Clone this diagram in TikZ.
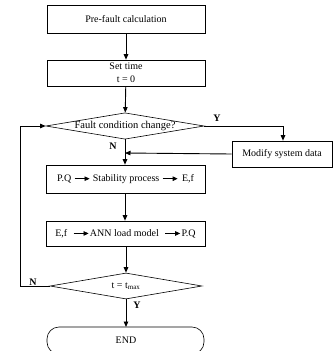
\documentclass[tikz,border=0pt]{standalone}
\usepackage{fontspec}
\setmainfont{Liberation Serif}
\usetikzlibrary{shapes.geometric,arrows.meta}
\newcommand\inarr{\tikz[baseline=-0.6ex]\draw[line width=0.7pt,-{Triangle[length=5pt,width=4.5pt]}] (0pt,0pt)--(15pt,0pt);}
\begin{document}
\begin{tikzpicture}[x=1pt,y=-1pt,
  font=\fontsize{10}{12}\selectfont,
  box/.style={draw, line width=0.6pt, minimum width=158pt, minimum height=27pt, inner sep=0pt, align=center},
  dec/.style={draw, line width=0.6pt, diamond, aspect=6, minimum width=154pt, minimum height=26pt, inner sep=0pt},
  arr/.style={line width=0.9pt, -{Triangle[length=5.5pt,width=4.5pt]}},
  lbl/.style={inner sep=0pt, font=\fontsize{10}{12}\selectfont\bfseries}]
\useasboundingbox (0,0) rectangle (333,351);
\node[box, minimum height=28pt] (b1) at (126,19) {Pre-fault calculation};
\node[box, minimum height=26pt] (b2) at (126,73) {Set time\\[1pt] t = 0};
\node[dec] (d1) at (125,126) {\fontsize{10.5}{12}\selectfont Fault condition change?};
\node[draw, line width=0.6pt, minimum width=100pt, minimum height=26pt, inner sep=0pt] (mod) at (282,154) {Modify system data};
\node[box, minimum width=159pt, minimum height=28pt] (b3) at (125.5,179) {P.Q\hspace{3pt}\inarr\hspace{3pt}Stability process\hspace{3pt}\inarr\hspace{4pt}E,f};
\node[box, minimum width=159pt, minimum height=25pt] (b4) at (125.5,233.5) {E,f\hspace{6pt}\inarr\hspace{1pt}ANN load model\hspace{6pt}\inarr\hspace{1pt}P.Q};
\node[dec, minimum width=152pt] (d2) at (126,286) {t = t$_{\mathrm{max}}$};
\draw[line width=0.6pt, rounded corners=12pt] (47,327) rectangle (204,354);
\node (end) at (126,340) {END};
\coordinate (endtop) at (126,327);
\coordinate (yc) at (283,126);
\coordinate (jn) at (125,153);
\coordinate (lb) at (20,286);
\coordinate (lt) at (20,126);
\draw[arr] (b1) -- (b2);
\draw[arr] (b2) -- (d1);
\draw[arr] (d1.east) -- (yc) -- (mod.north -| yc);
\draw[arr] (mod.west) -- (jn);
\draw[arr] (d1.south) -- (b3.north -| d1.south);
\draw[arr] (b3.south -| d1.south) -- (b4.north -| d1.south);
\draw[arr] (b4.south -| d2.north) -- (d2.north);
\draw[arr] (d2.south) -- (endtop);
\draw[arr] (d2.west) -- (lb) -- (lt) -- (d1.west);
\node[lbl] (ly1) at (217,118) {Y};
\node[lbl] (ln1) at (113,146) {N};
\node[lbl] (ln2) at (33,282) {N};
\node[lbl] (ly2) at (137,305) {Y};
\end{tikzpicture}
\end{document}
